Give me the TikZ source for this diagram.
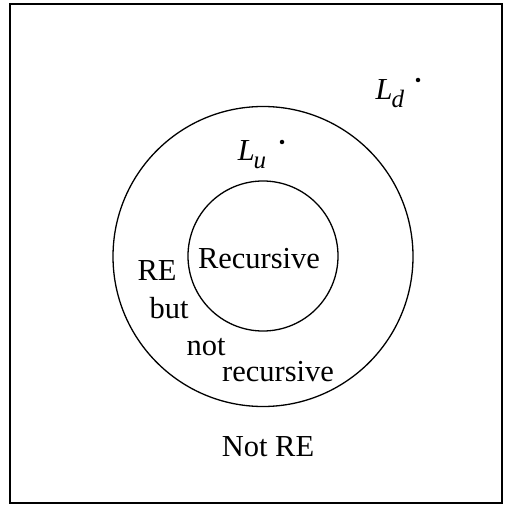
\documentclass[tikz,border=0pt]{standalone}
\usepackage{fontspec}
\setmainfont{Liberation Serif}
\usepackage{tikz}
\usetikzlibrary{positioning}
\newcommand{\langsub}[2]{\textit{#1}\kern-1pt\raisebox{-8pt}{\fontsize{25}{25}\selectfont\textit{#2}}}

\begin{document}
\begin{tikzpicture}[x=1pt,y=-1pt,
  setcircle/.style={draw, circle, line width=1.3pt, inner sep=0pt},
  regionlabel/.style={inner sep=0pt, font=\fontsize{30.5}{32}\selectfont},
  memberdot/.style={fill, circle, inner sep=0pt, minimum size=4.5pt}]
  \useasboundingbox (0,0) rectangle (504,510);
  % universe of all languages
  \node[draw, line width=1.7pt, minimum width=492pt, minimum height=499pt, inner sep=0pt] (univ) at (256,253.5) {};
  % RE and recursive sets
  \node[setcircle, minimum size=300pt] (re) at (263,256.5) {};
  \node[setcircle, minimum size=150pt] (rec) at (263,256) {};
  \node[regionlabel] (reclbl) at (259,259) {Recursive};
  \node[regionlabel] (relbl) at (157,271) {RE};
  \node[regionlabel] (butlbl) at (169,308) {but};
  \node[regionlabel] (notlbl) at (206,347) {not};
  \node[regionlabel] (recurlbl) at (278,372) {recursive};
  \node[regionlabel] (notrelbl) at (268,447) {Not RE};
  % the two languages
  \node[regionlabel] (lu) at (252,155) {\langsub{L}{u}};
  \node[memberdot] (udot) at (282,142) {};
  \node[regionlabel] (ld) at (390,94) {\langsub{L}{d}};
  \node[memberdot] (ddot) at (418,80) {};
\end{tikzpicture}
\end{document}
